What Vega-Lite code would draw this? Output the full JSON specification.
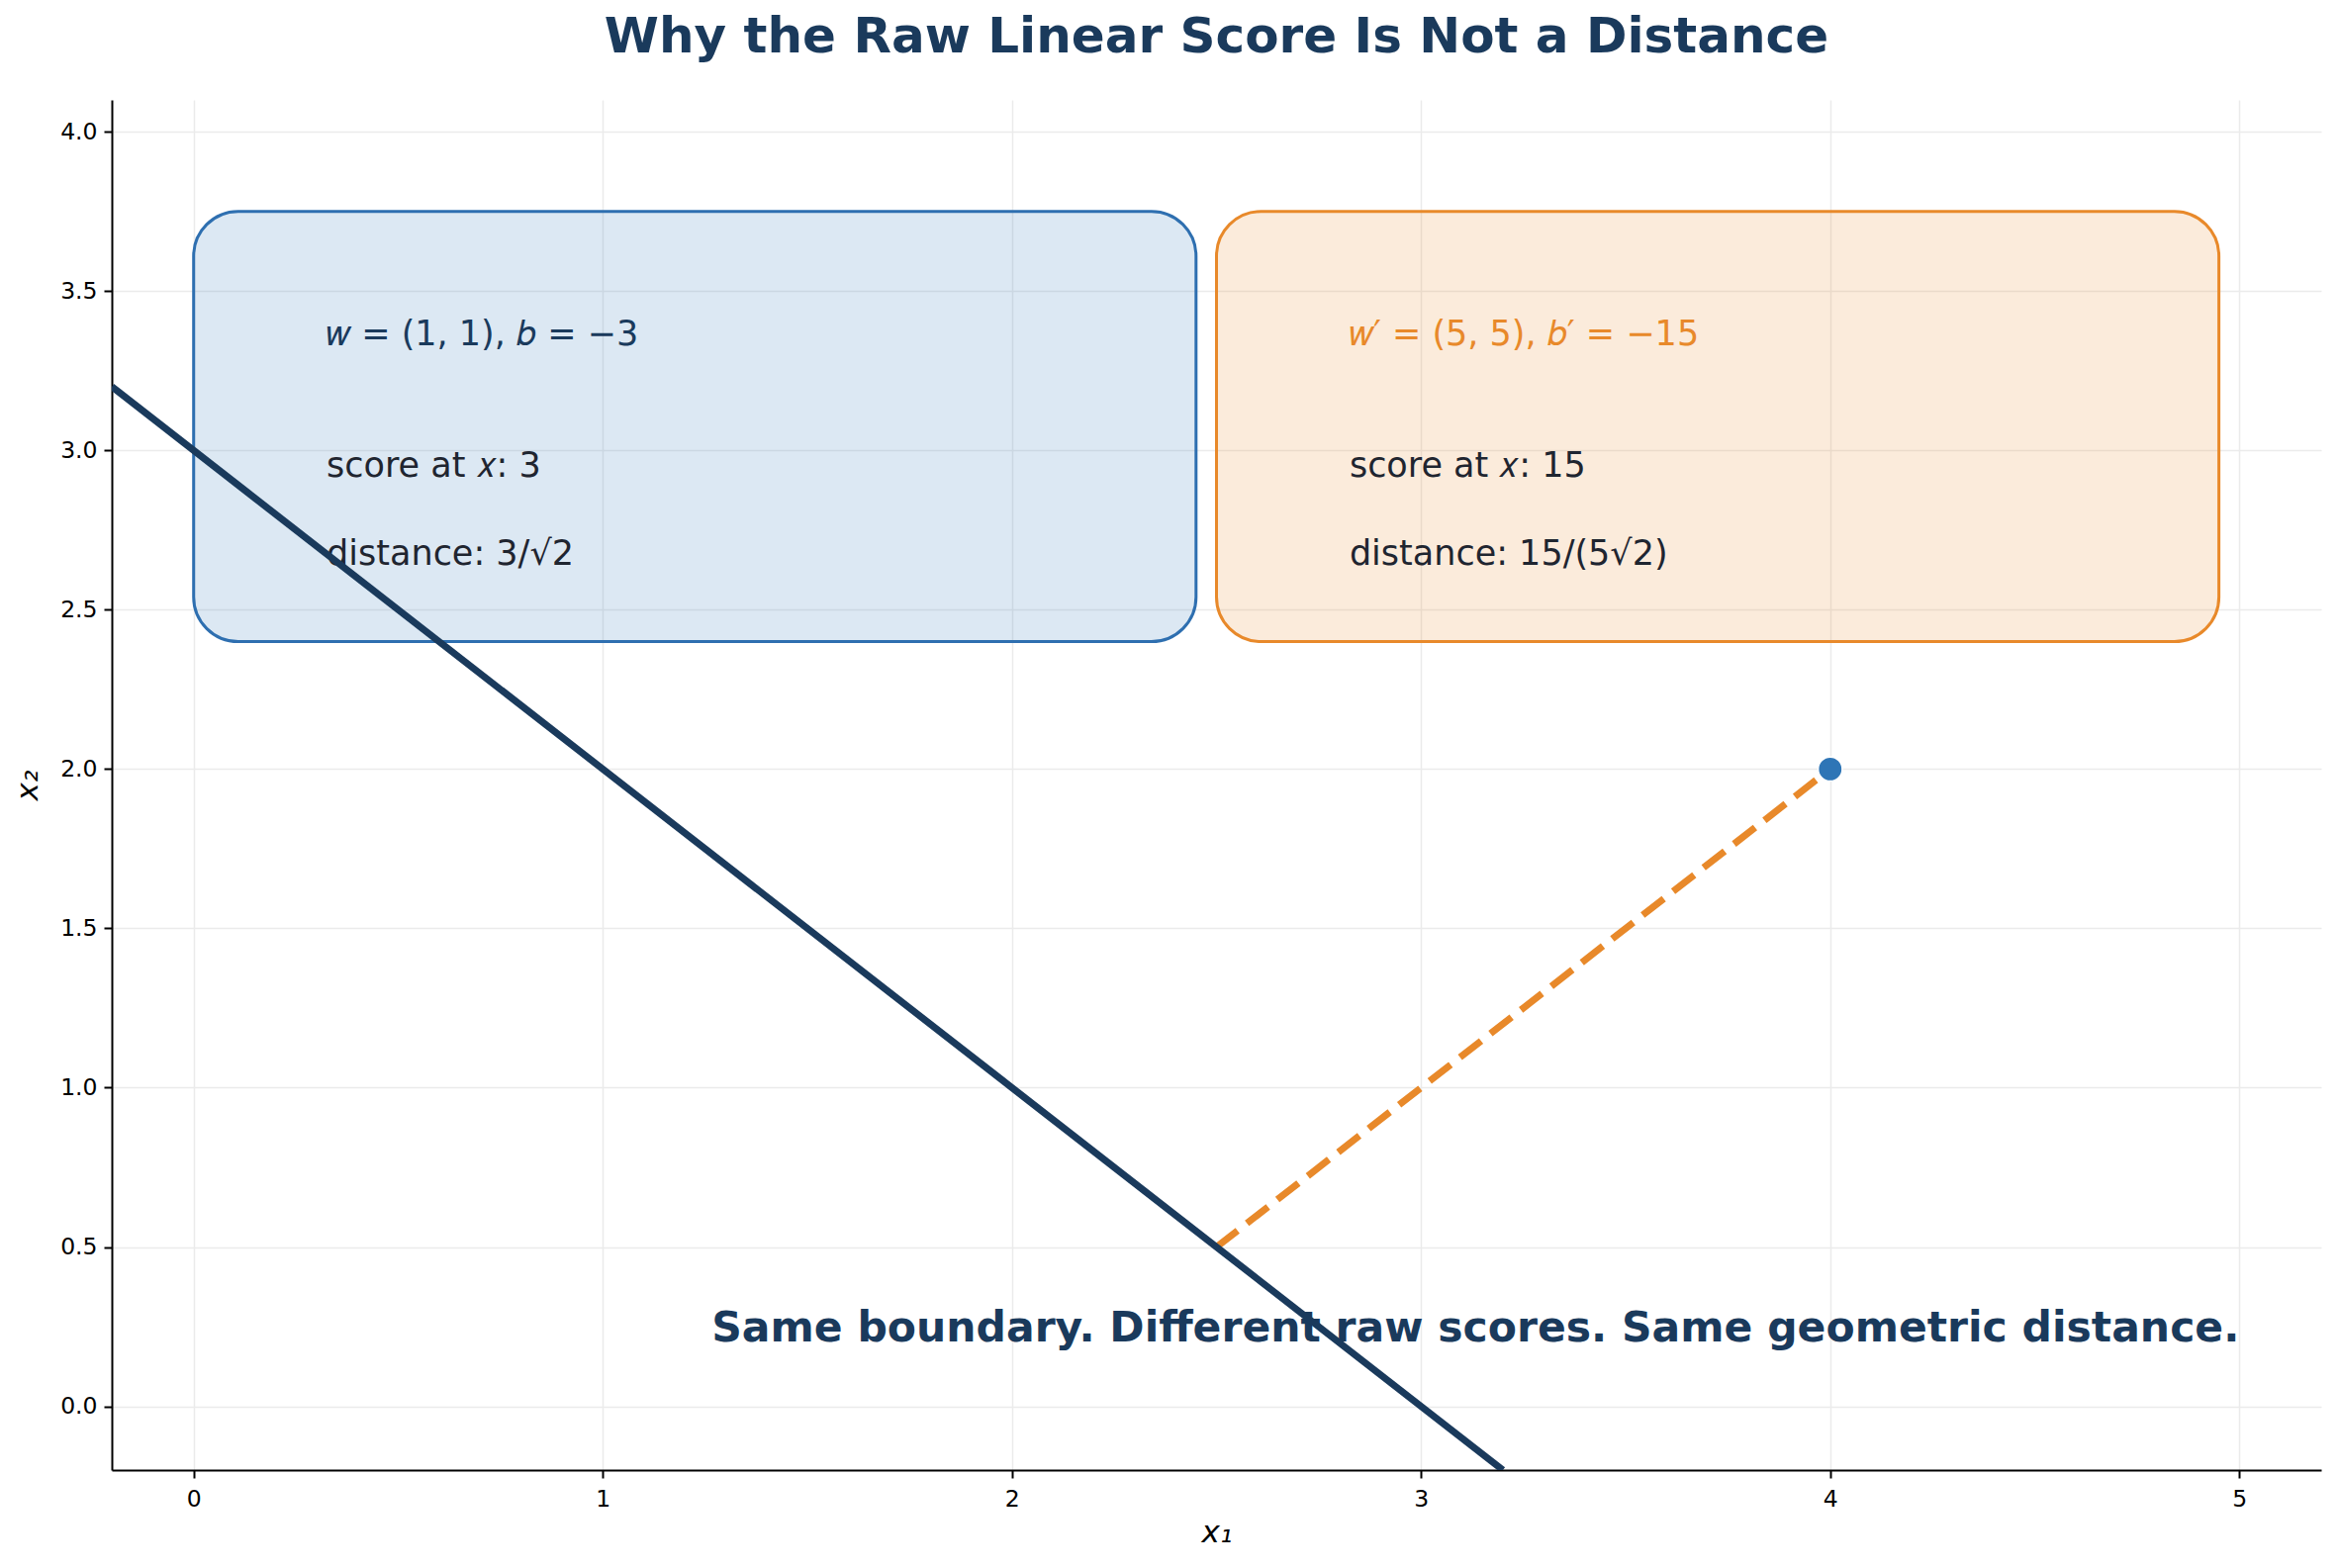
{
  "$schema": "https://vega.github.io/schema/vega-lite/v6.json",
  "width": 2233,
  "height": 1385,
  "autosize": {"type": "none"},
  "padding": {"left": 113, "top": 101, "right": 18, "bottom": 99},
  "background": "white",
  "title": {
    "text": "Why the Raw Linear Score Is Not a Distance",
    "font": "DejaVu Sans",
    "fontSize": 50,
    "fontWeight": "bold",
    "color": "#1a3a5c",
    "anchor": "middle",
    "baseline": "bottom",
    "offset": -12
  },
  "config": {
    "view": {"stroke": null},
    "font": "DejaVu Sans",
    "axis": {
      "labelFont": "DejaVu Sans",
      "labelFontSize": 23.5,
      "labelColor": "#000000",
      "titleFont": "DejaVu Sans",
      "titleFontSize": 31,
      "titleFontWeight": "normal",
      "titleFontStyle": "italic",
      "titleColor": "#000000",
      "domainColor": "#000000",
      "domainWidth": 2,
      "tickColor": "#000000",
      "tickWidth": 2,
      "tickSize": 8,
      "labelPadding": 7,
      "gridColor": "#ebebeb",
      "gridWidth": 1.5
    }
  },
  "layer": [
    {
      "data": {"values": [
        {"x": 0, "x2": 2.45, "y": 2.4, "y2": 3.75, "box": "original"},
        {"x": 2.5, "x2": 4.95, "y": 2.4, "y2": 3.75, "box": "scaled"}
      ]},
      "mark": {"type": "rect", "cornerRadius": 45, "strokeWidth": 3, "fillOpacity": 0.17},
      "encoding": {
        "x": {"field": "x", "type": "quantitative", "scale": {"domain": [-0.2, 5.2], "nice": false, "zero": false},
          "axis": {"values": [0, 1, 2, 3, 4, 5], "format": "d", "title": "x₁", "titlePadding": 8, "labelPadding": 9}},
        "x2": {"field": "x2"},
        "y": {"field": "y", "type": "quantitative", "scale": {"domain": [-0.2, 4.1], "nice": false, "zero": false},
          "axis": {"values": [0, 0.5, 1, 1.5, 2, 2.5, 3, 3.5, 4], "format": ".1f", "title": "x₂", "titlePadding": 16}},
        "y2": {"field": "y2"},
        "fill": {"field": "box", "type": "nominal", "scale": {"domain": ["original", "scaled"], "range": ["#2e75b6", "#e8892a"]}, "legend": null},
        "stroke": {"field": "box", "type": "nominal", "scale": {"domain": ["original", "scaled"], "range": ["#2e6fb0", "#e8892a"]}, "legend": null}
      }
    },
    {
      "data": {"values": [
        {"x": 0.325, "y": 3.331, "label": "𝑤 = (1, 1),  𝑏 = −3", "kind": "head-original"},
        {"x": 0.325, "y": 2.918, "label": "score at 𝑥: 3", "kind": "body"},
        {"x": 0.325, "y": 2.641, "label": "distance: 3/√2", "kind": "body"},
        {"x": 2.825, "y": 3.331, "label": "𝑤′ = (5, 5),  𝑏′ = −15", "kind": "head-scaled"},
        {"x": 2.825, "y": 2.918, "label": "score at 𝑥: 15", "kind": "body"},
        {"x": 2.825, "y": 2.641, "label": "distance: 15/(5√2)", "kind": "body"}
      ]},
      "mark": {"type": "text", "align": "left", "baseline": "alphabetic", "fontSize": 35, "font": "DejaVu Sans"},
      "encoding": {
        "x": {"field": "x", "type": "quantitative"},
        "y": {"field": "y", "type": "quantitative"},
        "text": {"field": "label"},
        "color": {"field": "kind", "type": "nominal", "scale": {"domain": ["head-original", "head-scaled", "body"], "range": ["#1a3a5c", "#e8892a", "#1f2530"]}, "legend": null}
      }
    },
    {
      "data": {"values": [
        {"x": 5.0, "y": 0.245, "label": "Same boundary. Different raw scores. Same geometric distance."}
      ]},
      "mark": {"type": "text", "align": "right", "baseline": "middle", "fontSize": 42.5, "fontWeight": "bold", "color": "#1a3a5c", "font": "DejaVu Sans"},
      "encoding": {
        "x": {"field": "x", "type": "quantitative"},
        "y": {"field": "y", "type": "quantitative"},
        "text": {"field": "label"}
      }
    },
    {
      "data": {"values": [
        {"x": 2.5, "y": 0.5},
        {"x": 4, "y": 2}
      ]},
      "mark": {"type": "line", "color": "#e8892a", "strokeWidth": 7, "strokeDash": [27, 12], "strokeCap": "butt"},
      "encoding": {
        "x": {"field": "x", "type": "quantitative"},
        "y": {"field": "y", "type": "quantitative"}
      }
    },
    {
      "data": {"values": [
        {"x": -0.2, "y": 3.2},
        {"x": 3.2, "y": -0.2}
      ]},
      "mark": {"type": "line", "color": "#1a3a5c", "strokeWidth": 7, "clip": true},
      "encoding": {
        "x": {"field": "x", "type": "quantitative"},
        "y": {"field": "y", "type": "quantitative"}
      }
    },
    {
      "data": {"values": [
        {"x": 4, "y": 2}
      ]},
      "mark": {"type": "point", "filled": true, "size": 590, "color": "#2e75b6", "opacity": 1, "stroke": "white", "strokeWidth": 1.5},
      "encoding": {
        "x": {"field": "x", "type": "quantitative"},
        "y": {"field": "y", "type": "quantitative"}
      }
    }
  ]
}
